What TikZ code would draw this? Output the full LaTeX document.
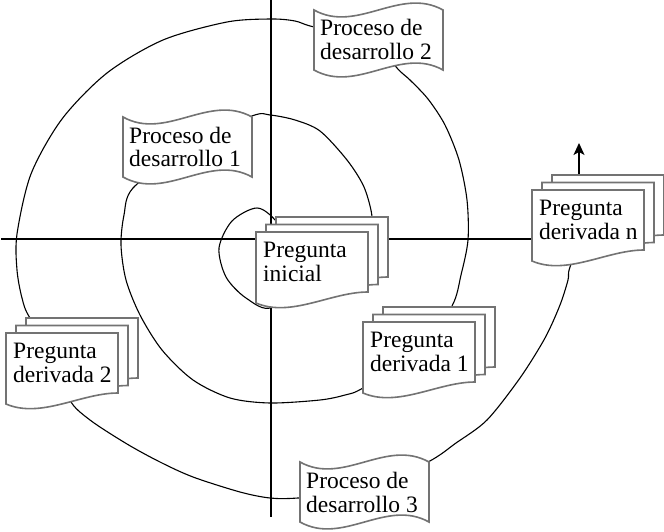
\documentclass[tikz,border=0pt]{standalone}
\usepackage{fontspec}
\setmainfont{Liberation Serif}
\usetikzlibrary{arrows.meta}
\pgfdeclarelayer{bg}
\pgfsetlayers{bg,main}
\definecolor{pagegray}{RGB}{115,115,115}
\tikzset{
  page/.style={draw=pagegray, fill=white, line width=1.6pt, line join=miter},
  txt/.style={font=\fontsize{23.5}{24}\selectfont, align=left, inner sep=0pt, anchor=base west},
  spiral/.style={draw=black, line width=1.1pt},
  axis/.style={draw=black, line width=1.2pt},
}
\newcommand\multidoc[4]{%
  \begin{scope}[shift={(#2,#3)}]
    \foreach \d in {20,10,0}{%
      \begin{scope}[shift={(\d,-0.75*\d)}]
        \filldraw[page] (0,0) -- (112,0) -- (112,60) .. controls (75,60) and (35,86) .. (0,71) -- cycle;
      \end{scope}}
  \end{scope}
  \node[txt] (#1) at (#2+7,#3+49) {#4};
}
\newcommand\tapebox[4]{%
  \begin{scope}[shift={(#2,#3)}]
    \filldraw[page] (0,0) .. controls (43,24) and (86,-24) .. (129,0) -- (129,60)
      .. controls (86,36) and (43,84) .. (0,60) -- cycle;
  \end{scope}
  \node[txt] (#1) at (#2+6,#3+50) {#4};
}
\begin{document}
\begin{tikzpicture}[x=1pt,y=-1pt]
\useasboundingbox (0,0) rectangle (664,532);
% shapes
\multidoc{pi}{256}{232}{Pregunta\\inicial}
\multidoc{pd1}{363}{322}{Pregunta\\derivada 1}
\multidoc{pd2}{6}{333}{Pregunta\\derivada 2}
\multidoc{pdn}{532}{190}{Pregunta\\derivada n}
\tapebox{p1}{123}{117}{Proceso de\\desarrollo 1}
\tapebox{p2}{314}{10}{Proceso de\\desarrollo 2}
\tapebox{p3}{300}{462}{Proceso de\\desarrollo 3}
\coordinate (xl) at (1,239);
\coordinate (yt) at (271,0);
\coordinate (yb) at (271,517);
\coordinate (tip) at (579,143);
\begin{pgfonlayer}{bg}
  % axes
  \draw[axis] (xl) -- (xl -| pdn.center);
  \draw[axis] (yt) -- (yb);
  % inner loop
  \draw[spiral] plot[smooth] coordinates {(pi.center) (277,222) (257,208) (232,221) (219,248) (226,277) (246,298) (272,307) (pi.center)};
  % spiral
  \draw[spiral] plot[smooth] coordinates {(pi.center) (366,232) (372,217) (364,187) (347,160) (320,131) (295,120) (270,115) (252,116) (p1.center)};
  \draw[spiral] plot[smooth] coordinates {(p1.center) (133,188) (124,215) (121,245) (126,280) (140,315) (162,350) (193,380) (230,398) (270,403) (320,400) (345,395) (363,388) (pd1.center)};
  \draw[spiral] plot[smooth] coordinates {(pd1.center) (452,306) (461,275) (468,240) (467,200) (459,160) (445,125) (428,99) (410,80) (397,68) (p2.center)};
  \draw[spiral] plot[smooth] coordinates {(p2.center) (314,27) (295,21) (271,19) (227,22) (163,40) (107,73) (62,119) (31,174) (17,234) (17,270) (22,298) (30,318) (pd2.center)};
  \draw[spiral] plot[smooth] coordinates {(pd2.center) (70,400) (90,420) (127,444) (160,462) (193,477) (240,492) (270,498) (298,498) (p3.center)};
  \draw[spiral] plot[smooth] coordinates {(p3.center) (428,462) (456,443) (487,420) (520,378) (545,338) (560,305) (568,280) (570,267) (pdn.center)};
  % arrow
  \draw[spiral, line width=1.3pt, -{Stealth[length=12pt,width=11pt,inset=3pt]}] (tip |- pdn.center) -- (tip);
\end{pgfonlayer}
\end{tikzpicture}
\end{document}
